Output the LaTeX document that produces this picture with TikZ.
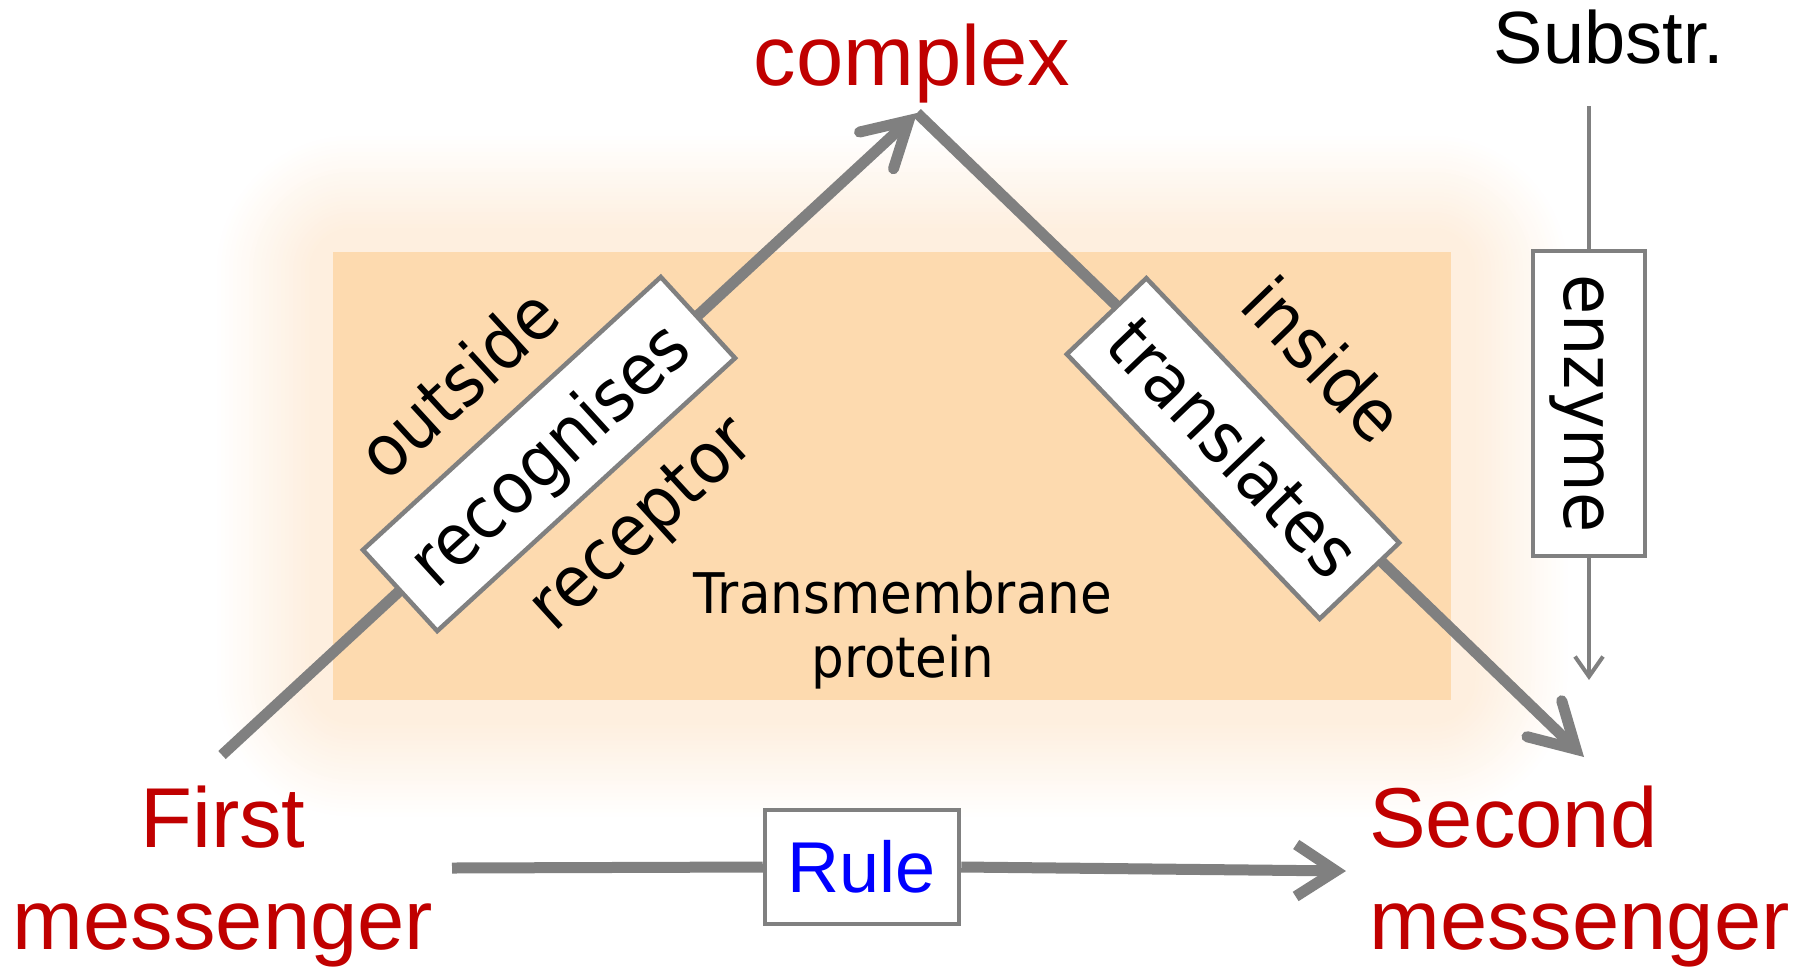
\documentclass[tikz,border=0pt]{standalone}
\usepackage{fontspec}
\setmainfont{Liberation Sans}
\newfontfamily\tahfont[FakeStretch=0.92]{DejaVu Sans}
\usetikzlibrary{arrows.meta}

\definecolor{msgred}{HTML}{C00000}
\definecolor{linegray}{HTML}{808080}
\definecolor{membrane}{HTML}{FDDAAF}
\definecolor{halo}{HTML}{FEEFDF}
\definecolor{ruleblue}{HTML}{0000FF}

\tikzset{
  signal/.style={draw=linegray, line width=11pt,
    -{Straight Barb[length=44pt,width=50pt,line cap=round]}},
  direct/.style={draw=linegray, line width=11pt,
    -{Straight Barb[length=40pt,width=52pt]}},
  thinflow/.style={draw=linegray, line width=4pt},
  stagebox/.style={draw=linegray, line width=4.5pt, fill=white, inner sep=0pt,
    text height=66pt, text depth=17pt,
    font=\tahfont\fontsize{71}{80}\selectfont},
  sidelabel/.style={inner sep=0pt, font=\tahfont\fontsize{71}{80}\selectfont},
  messenger/.style={inner sep=0pt, text=msgred, font=\fontsize{85}{102}\selectfont},
}

\begin{document}
\begin{tikzpicture}[x=1pt,y=-1pt]
\useasboundingbox (0,0) rectangle (1812,970);

% soft halo around the membrane block
\foreach \d in {120,116,...,0} {
  \pgfmathtruncatemacro\pct{min(100,(120-\d)/0.95)}
  \fill[halo!\pct!white, rounded corners=\d+20]
    (333-\d,252-\d) rectangle (1451+\d,700+\d);
}
% membrane block
\fill[membrane] (333,252) rectangle (1451,700);

\node[inner sep=0pt, align=center, font=\tahfont\fontsize{56}{64}\selectfont, anchor=base]
  (tm) at (903,677) {Transmembrane\\protein};

% end points of the signalling path
\coordinate (fmTop) at (222,755);
\coordinate (apex) at (917,113);
\coordinate (smTop) at (1584,757);
\coordinate (fmRight) at (452,868);
\coordinate (smLeft) at (1346,871);
\coordinate (subBottom) at (1589,106);
\coordinate (enzTip) at (1589,680);

% labels
\node[messenger, anchor=base] (complex) at (912,85) {complex};
\node[inner sep=0pt, anchor=base, font=\fontsize{74}{80}\selectfont] (substr) at (1609,63) {Substr.};
\node[messenger, align=center, anchor=base] (first) at (223,949) {First\\messenger};
\node[messenger, align=left, anchor=base west] (second) at (1369,949) {Second\\messenger};

% main arrows
\draw[signal] (fmTop) -- (apex);
\draw[signal] (apex) -- (smTop);

% stage boxes on the arrows
\node[stagebox, minimum width=404pt, minimum height=110pt, rotate=42.5] (recog) at (549,454) {recognises};
\node[stagebox, minimum width=366pt, minimum height=110pt, rotate=-46.3] (transl) at (1233,448.5) {translates};

\node[sidelabel, rotate=42.5] (outside) at (457,383) {outside};
\node[sidelabel, rotate=42.5] (receptor) at (644,527) {receptor};
\node[sidelabel, rotate=-46] (inside) at (1324,359) {inside};

% enzyme branch (box turned a quarter clockwise: its west side is on top)
\node[stagebox, minimum width=305pt, minimum height=112pt, rotate=-90] (enz) at (1589,403.5) {enzyme};
\draw[thinflow] (subBottom) -- (enz.west);
\draw[thinflow, -{Straight Barb[length=20pt,width=28pt]}] (enz.east) -- (enzTip);

% direct rule
\node[draw=linegray, line width=4.5pt, fill=white, minimum width=194pt, minimum height=114pt,
  inner sep=0pt, text=ruleblue, font=\fontsize{72}{80}\selectfont] (rule) at (862,867) {Rule};
\draw[direct, -] (fmRight) -- (rule.west);
\draw[direct] (rule.east) -- (smLeft);
\end{tikzpicture}
\end{document}
